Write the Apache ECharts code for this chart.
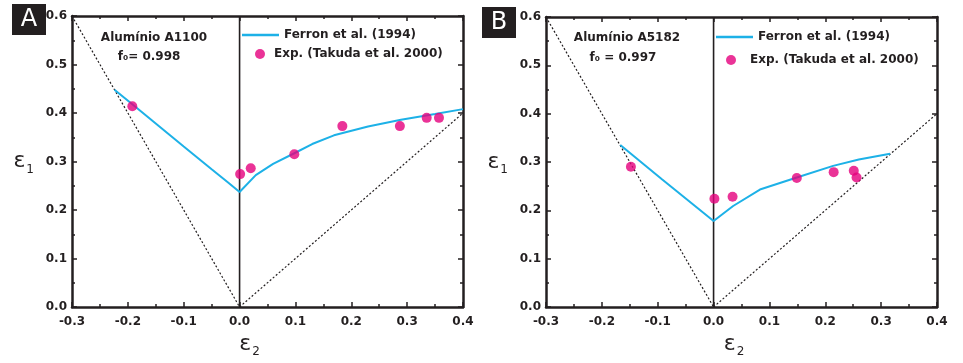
<!DOCTYPE html>
<html>
<head>
<meta charset="utf-8">
<script src="https://cdn.jsdelivr.net/npm/echarts@6/dist/echarts.min.js"></script>
<style>html,body{margin:0;padding:0;background:#fff}#c{width:963px;height:363px}</style>
</head>
<body>
<div id="c"></div>
<script>
// ---- data ----
const panelLabels = ['A', 'B'];
const materialNames = ['Alumínio A1100', 'Alumínio A5182'];
const f0Labels = ['f₀= 0.998', 'f₀ = 0.997'];
const lineName = 'Ferron et al. (1994)';
const dotName = 'Exp. (Takuda et al. 2000)';
const xRange = [-0.3, 0.4];
const yRange = [0.0, 0.6];
const tickStep = 0.1;

const ferronA = [[-0.224,0.448],[-0.192,0.418],[-0.1,0.331],[-0.05,0.284],[-0.02,0.256],[0,0.237],[0.029,0.272],[0.06,0.295],[0.098,0.317],[0.13,0.336],[0.169,0.354],[0.23,0.372],[0.289,0.386],[0.35,0.398],[0.40,0.408]];
const expA = [[-0.192,0.414],[0.001,0.274],[0.020,0.286],[0.098,0.315],[0.184,0.373],[0.287,0.373],[0.335,0.390],[0.357,0.390]];
const ferronB = [[-0.167,0.335],[-0.093,0.265],[0,0.178],[0.035,0.209],[0.083,0.243],[0.149,0.268],[0.214,0.292],[0.26,0.305],[0.316,0.317]];
const expB = [[-0.148,0.290],[0.0015,0.224],[0.034,0.228],[0.149,0.267],[0.215,0.279],[0.251,0.282],[0.256,0.268]];
const limitLeft = [[-0.3,0.6],[0,0]];   // eps1 = -2 eps2
const limitRight = [[0,0],[0.4,0.4]];   // eps1 = eps2
const zeroLine = [[0,0],[0,0.6]];

// ---- chart ----
const INK = '#231f20';
const FONT = 'DejaVu Sans';
const grids = [
  {left: 72, right: 500, top: 16, bottom: 56},
  {left: 546, right: 26, top: 17, bottom: 55}
];
const namePad = [[0, 36, 0, 0], [0, 15, 0, 0]];
const epsRich = {
  e: {fontFamily: FONT, fontSize: 22, color: INK},
  s: {fontFamily: FONT, fontSize: 12, color: INK, verticalAlign: 'bottom', padding: [0, 0, -3, 1]}
};

function axisCommon(show) {
  return {
    axisLine: {show: true, onZero: false, lineStyle: {color: INK, width: 2.5}},
    axisTick: {show: true, inside: true, length: 5, lineStyle: {color: INK, width: 1.5}},
    minorTick: {show: true, splitNumber: 2, length: 3, lineStyle: {color: INK, width: 1.5}},
    splitLine: {show: false},
    axisLabel: show ? {show: true, color: INK, fontFamily: FONT, fontWeight: 'bold', fontSize: 12,
      formatter: v => v.toFixed(1)} : {show: false}
  };
}

const xAxes = [], yAxes = [], series = [];
[0, 1].forEach(i => {
  xAxes.push(Object.assign({type: 'value', gridIndex: i, min: xRange[0], max: xRange[1], interval: tickStep,
    position: 'bottom', name: '{e|ε}{s|2}', nameLocation: 'middle', nameGap: 26,
    nameTextStyle: {padding: namePad[i], rich: epsRich}}, axisCommon(true)));
  xAxes[xAxes.length-1].axisLabel.margin = 9;
  xAxes.push(Object.assign({type: 'value', gridIndex: i, min: xRange[0], max: xRange[1], interval: tickStep,
    position: 'top'}, axisCommon(false)));
  yAxes.push(Object.assign({type: 'value', gridIndex: i, min: yRange[0], max: yRange[1], interval: tickStep,
    position: 'left', name: '{e|ε}{s|1}', nameLocation: 'middle', nameRotate: 0, nameGap: 38,
    nameTextStyle: {rich: epsRich}}, axisCommon(true)));
  yAxes[yAxes.length-1].axisLabel.margin = 5;
  yAxes.push(Object.assign({type: 'value', gridIndex: i, min: yRange[0], max: yRange[1], interval: tickStep,
    position: 'right'}, axisCommon(false)));
});

function add(i, s) { series.push(Object.assign({xAxisIndex: 2*i, yAxisIndex: 2*i, animation: false}, s)); }
[[ferronA, expA], [ferronB, expB]].forEach(([fer, exp], i) => {
  add(i, {type: 'line', name: 'limitL', data: limitLeft, symbol: 'none', silent: true, z: 1,
    lineStyle: {color: INK, width: 1.2, type: [2, 2]}});
  add(i, {type: 'line', name: 'limitR', data: limitRight, symbol: 'none', silent: true, z: 1,
    lineStyle: {color: INK, width: 1.2, type: [2, 2]}});
  add(i, {type: 'line', name: 'zero', data: zeroLine, symbol: 'none', silent: true, z: 2,
    lineStyle: {color: INK, width: 1.6}});
  add(i, {type: 'line', name: lineName, data: fer, symbol: 'none', z: 3,
    itemStyle: {color: '#1db1e7'}, lineStyle: {color: '#1db1e7', width: 2}});
  add(i, {type: 'scatter', name: dotName, data: exp, symbolSize: 10, z: 4,
    itemStyle: {color: '#e5007d'}});
});

const legTxt = {fontFamily: FONT, fontWeight: 'bold', fontSize: 12, color: INK, lineHeight: 14};
const legends = [
  {left: 242, top: 28, padding: 0, itemWidth: 37, itemHeight: 2.5, icon: 'rect', data: [lineName], textStyle: legTxt, selectedMode: false},
  {left: 255, top: 47, padding: 0, itemWidth: 18, itemHeight: 10, icon: 'circle', data: [dotName], textStyle: legTxt, selectedMode: false},
  {left: 716, top: 30, padding: 0, itemWidth: 37, itemHeight: 2.5, icon: 'rect', data: [lineName], textStyle: legTxt, selectedMode: false},
  {left: 726, top: 53, padding: 0, itemWidth: 28, itemHeight: 10, icon: 'circle', data: [dotName], textStyle: legTxt, selectedMode: false}
];

const boxes = [{x: 12, y: 4}, {x: 482, y: 7}];
const annots = [{cx: 154, y1: 38, cx2: 149, y2: 57}, {cx: 627, y1: 38, cx2: 623, y2: 58}];
const graphic = [];
[0, 1].forEach(i => {
  graphic.push({type: 'rect', left: boxes[i].x, top: boxes[i].y, shape: {width: 34, height: 31}, style: {fill: INK}});
  graphic.push({type: 'text', x: boxes[i].x + 17, y: boxes[i].y + 16,
    style: {text: panelLabels[i], fill: '#fff', font: '24px ' + FONT, textAlign: 'center', textVerticalAlign: 'middle'}});
  graphic.push({type: 'text', x: annots[i].cx, y: annots[i].y1,
    style: {text: materialNames[i], fill: INK, font: 'bold 12px ' + FONT, textAlign: 'center', textVerticalAlign: 'middle'}});
  graphic.push({type: 'text', x: annots[i].cx2, y: annots[i].y2,
    style: {text: f0Labels[i], fill: INK, font: 'bold 12px ' + FONT, textAlign: 'center', textVerticalAlign: 'middle'}});
});

const chart = echarts.init(document.getElementById('c'), null, {renderer: 'canvas'});
chart.setOption({
  animation: false,
  backgroundColor: '#fff',
  grid: grids,
  xAxis: xAxes,
  yAxis: yAxes,
  legend: legends,
  series: series,
  graphic: graphic
});
</script>
</body>
</html>
